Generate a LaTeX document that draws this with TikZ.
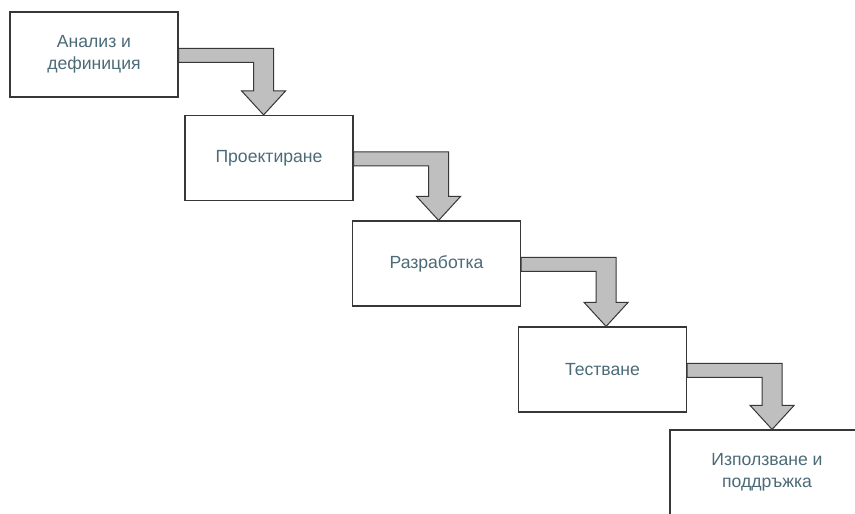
\documentclass[tikz,border=0pt]{standalone}
\usepackage{fontspec}
\setmainfont{Liberation Sans}
\usetikzlibrary{calc}
\definecolor{stagetext}{RGB}{75,107,120}
\definecolor{arrowgray}{RGB}{191,191,191}
\definecolor{edgegray}{RGB}{55,55,55}

\tikzset{
  stage/.style={draw=edgegray,line width=1.2pt,minimum width=168pt,minimum height=85pt,
    align=center,text=stagetext,font=\fontsize{17.6}{21.5}\selectfont,inner sep=0pt},
  fall/.style={draw=edgegray,fill=arrowgray,line width=1pt,line join=miter}
}

\begin{document}
\begin{tikzpicture}[x=1pt,y=-1pt]
    \clip (0,0) rectangle (855,514);
    \fill[white] (0,0) rectangle (855,514);
    \node[stage] (analiz) at (94,54.5) {Анализ и\\дефиниция};
    \node[stage] (proekt) at (269,158) {Проектиране};
    \node[stage] (razrab) at (436.5,263.5) {Разработка};
    \node[stage] (test) at (602.5,369.5) {Тестване};
    \node[stage,minimum width=194pt] (izpolz) at (767,472.5) {Използване и\\поддръжка};
    % stepped arrows, box to box
    \foreach \a/\b in {analiz/proekt,proekt/razrab,razrab/test,test/izpolz}
      \draw[fall] let \p1=(\a.north east), \p2=(\b.north) in
        (\x1,\y1-37pt) -- (\x1+95pt,\y1-37pt) -- (\x1+95pt,\y2+24pt)
        -- (\x1+107pt,\y2+24pt) -- (\x1+85pt,\y2) -- (\x1+63pt,\y2+24pt)
        -- (\x1+75pt,\y2+24pt) -- (\x1+75pt,\y1-51pt) -- (\x1,\y1-51pt) -- cycle;
  \end{tikzpicture}
\end{document}
